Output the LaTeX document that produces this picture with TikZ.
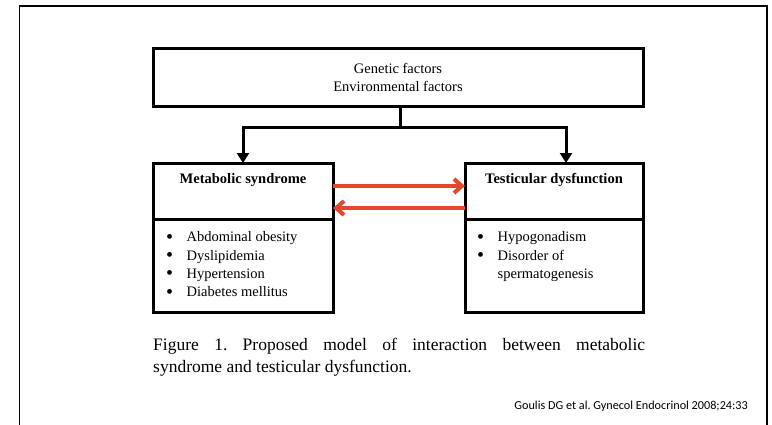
\documentclass[tikz,border=0pt]{standalone}
\usepackage{fontspec}
\setmainfont{Liberation Serif}
\newfontfamily\citefont{Carlito}
\usetikzlibrary{positioning,arrows.meta}

\definecolor{linkred}{HTML}{E8452F}

\tikzset{
  box/.style = {draw, line width=3pt, inner sep=0pt, outer sep=0pt,
                font=\fontsize{14.5}{17.5}\selectfont},
  head/.style = {box, anchor=north west, inner ysep=5pt,
                 text height=15pt, text depth=31pt, font=\fontsize{14.5}{17}\selectfont\bfseries},
  items/.style = {anchor=north west, align=left, inner sep=0pt,
                  font=\fontsize{14.5}{18.3}\selectfont},
  flow/.style = {line width=3pt, -{Triangle[length=10pt,width=12pt]}},
  link/.style = {draw=linkred, line width=4pt, -{Straight Barb[length=8pt,width=14pt]}},
}
\newcommand{\itm}{\makebox[20.5pt][l]{\raisebox{-1.5pt}{\fontsize{20}{20}\selectfont\textbullet}}}

\begin{document}
\frenchspacing
\begin{tikzpicture}[x=1pt, y=-1pt]
        \useasboundingbox (0,0) rectangle (772,424);
        % outer frame, open at the bottom
        \draw[line width=1.5pt] (19.5,430) -- (19.5,6) -- (767,6) -- (767,430);
        %
        \node[box, minimum width=490pt, minimum height=58pt, align=center] (factors) at (398,77.5) {Genetic factors\\Environmental factors};
        %
        \node[head, minimum width=180pt] (metsyn) at (153,163) {Metabolic syndrome};
        \node[box, minimum width=180pt, minimum height=93pt, anchor=north] (metlist) at (metsyn.south) {};
        \node[head, minimum width=178pt] (testis) at (465,163) {Testicular dysfunction};
        \node[box, minimum width=178pt, minimum height=93pt, anchor=north] (testlist) at (testis.south) {};
        %
        \node[items] (metitems) at (166,231.5) {\itm Abdominal obesity\\ \itm Dyslipidemia\\ \itm Hypertension\\ \itm Diabetes mellitus};
        \node[items] (testitems) at (477,231.5) {\itm Hypogonadism\\ \itm Disorder of\\ \hspace*{20.5pt}spermatogenesis};
        %
        \draw[line width=3pt] ([xshift=2pt]factors.south) -- ++(0,21) coordinate (split);
        \draw[flow] (split) -| (metsyn.north);
        \draw[flow] (split) -| ([xshift=12pt]testis.north);
        %
        \draw[link] ([yshift=5pt]metsyn.east) -- ([yshift=5pt]testis.west);
        \draw[link] ([yshift=-17pt]testis.west) -- ([yshift=-17pt]metsyn.east);
        %
        \node[anchor=base west, align=left, inner sep=0pt, font=\fontsize{17.5}{22}\selectfont] (caption) at (153,372)
          {\makebox[492pt][s]{Figure 1. Proposed model of interaction between metabolic}\\syndrome and testicular dysfunction.};
        \node[anchor=base east, inner sep=0pt, font=\citefont\fontsize{12.2}{14}\selectfont] (source) at (748,409)
          {Goulis DG et al. Gynecol Endocrinol 2008;24:33};
\end{tikzpicture}
\end{document}
